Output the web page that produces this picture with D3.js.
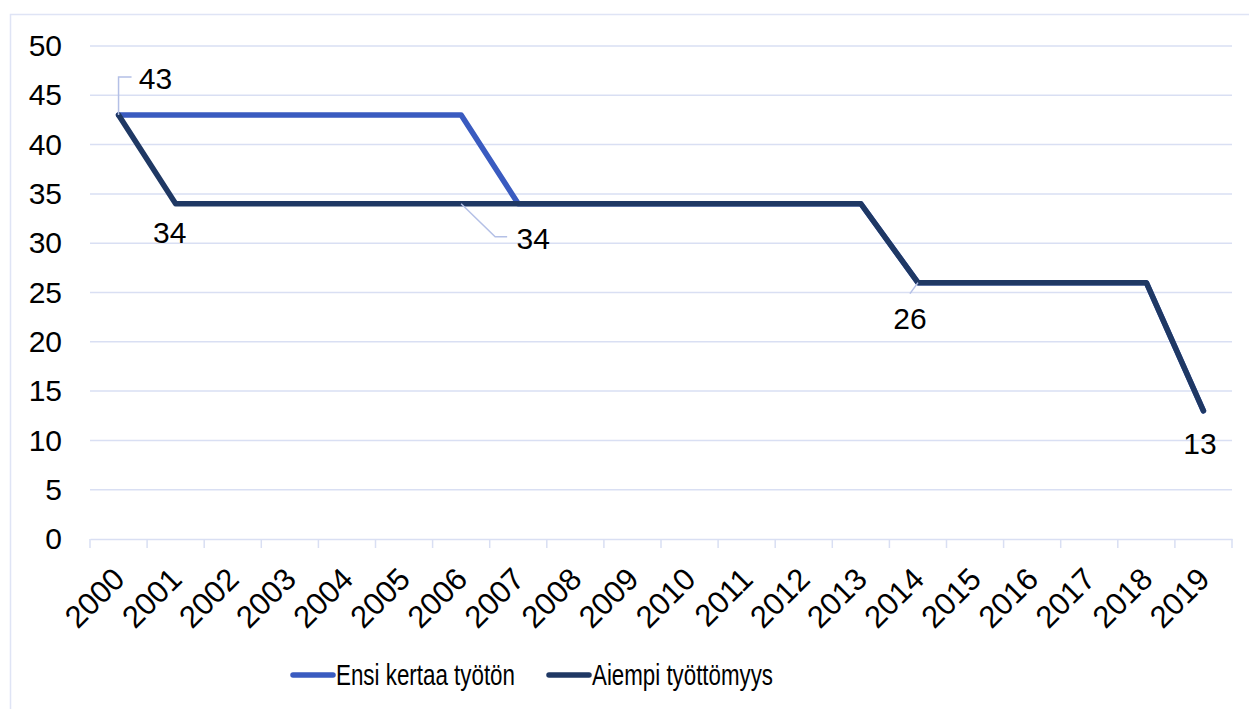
<!DOCTYPE html>
<html>
<head>
<meta charset="utf-8">
<script src="https://cdn.jsdelivr.net/npm/d3@7"></script>
<style>
  body { margin: 0; background: #fff; }
  svg { font-family: "Liberation Sans", Arial, sans-serif; }
</style>
</head>
<body>
<svg id="chart" width="1249" height="709"></svg>
<script>
// Data
const years = ["2000","2001","2002","2003","2004","2005","2006","2007","2008","2009",
               "2010","2011","2012","2013","2014","2015","2016","2017","2018","2019"];
const ensiKertaa = [43,43,43,43,43,43,43,34,34,34,34,34,34,34,26,26,26,26,26,13];
const aiempi     = [43,34,34,34,34,34,34,34,34,34,34,34,34,34,26,26,26,26,26,13];
const yTicks = [0,5,10,15,20,25,30,35,40,45,50];
const seriesNames = ["Ensi kertaa työtön", "Aiempi työttömyys"];
// labelled points of "Aiempi työttömyys" (index into years)
const labelIdx = [0, 1, 6, 14, 19];

const colors = ["#3a5bc0", "#1f3864"];

// Layout
const margin = { top: 46, left: 90, right: 17, bottom: 170 };
const width = 1249 - margin.left - margin.right;
const height = 709 - margin.top - margin.bottom;

const svg = d3.select("#chart");

// outer frame
svg.append("rect")
  .attr("x", 10.5).attr("y", 14.5)
  .attr("width", 1260).attr("height", 720)
  .attr("fill", "none")
  .attr("stroke", "#dfe4f5")
  .attr("stroke-width", 1.5);

const g = svg.append("g")
  .attr("transform", `translate(${margin.left},${margin.top})`);

// Scales
const x = d3.scaleBand().domain(years).range([0, width]);
const y = d3.scaleLinear().domain([0, 50]).range([height, 0]);
const cx = d => x(d) + x.bandwidth() / 2;

// Gridlines
g.selectAll(".grid")
  .data(yTicks.filter(t => t > 0))
  .enter()
  .append("line")
  .attr("x1", 0).attr("x2", width)
  .attr("y1", d => y(d)).attr("y2", d => y(d))
  .attr("stroke", "#d9dff3")
  .attr("stroke-width", 1.5);

// Y axis
const yAxis = g.append("g")
  .call(d3.axisLeft(y).tickValues(yTicks).tickSize(0).tickPadding(28));
yAxis.select(".domain").remove();
yAxis.selectAll("text")
  .attr("font-size", 30)
  .attr("fill", "#000")
  .attr("font-family", "Liberation Sans, Arial, sans-serif");

// X axis
const xAxis = g.append("g")
  .attr("transform", `translate(0,${height})`)
  .call(d3.axisBottom(x).tickSize(0).tickFormat(""));
xAxis.select(".domain")
  .attr("stroke", "#d9dff3")
  .attr("stroke-width", 1.5);
xAxis.selectAll(".tick").remove();

// x tick marks at band edges
const edges = years.map(d => x(d)).concat([width]);
xAxis.selectAll(".edge")
  .data(edges)
  .enter()
  .append("line")
  .attr("x1", d => d).attr("x2", d => d)
  .attr("y1", 0).attr("y2", 9)
  .attr("stroke", "#d9dff3")
  .attr("stroke-width", 1.5);

// x labels rotated
xAxis.selectAll(".xlab")
  .data(years)
  .enter()
  .append("text")
  .attr("text-anchor", "end")
  .attr("font-size", 31)
  .attr("fill", "#000")
  .attr("transform", d => `translate(${cx(d) + 8},${42}) rotate(-45)`)
  .text(d => d);

// Lines
const line = d3.line()
  .x((d, i) => cx(years[i]))
  .y(d => y(d));

[ensiKertaa, aiempi].forEach((vals, k) => {
  g.append("path")
    .datum(vals)
    .attr("fill", "none")
    .attr("stroke", colors[k])
    .attr("stroke-width", 5.5)
    .attr("stroke-linejoin", "round")
    .attr("stroke-linecap", "round")
    .attr("d", line);
});

// Data labels (offsets relative to point)
const labelPos = {
  0:  { dx: 37,   dy: -26, leader: [[0, -38], [13, -38]] },
  1:  { dx: -6,   dy: 39.5 },
  6:  { dx: 72,   dy: 45,  leader: [[34, 33], [46, 33]] },
  14: { dx: -8,   dy: 46.5, leader: [[-8, 11]] },
  19: { dx: -3.5, dy: 43.5 }
};

labelIdx.forEach(i => {
  const px = cx(years[i]);
  const py = y(aiempi[i]);
  const p = labelPos[i];
  if (p.leader) {
    const pts = [[px, py]].concat(p.leader.map(q => [px + q[0], py + q[1]]));
    g.append("path")
      .attr("d", d3.line()(pts))
      .attr("fill", "none")
      .attr("stroke", "#b4c0e6")
      .attr("stroke-width", 1.5);
  }
  g.append("text")
    .attr("x", px + p.dx)
    .attr("y", py + p.dy)
    .attr("text-anchor", "middle")
    .attr("font-size", 30)
    .attr("fill", "#000")
    .text(aiempi[i]);
});

// Legend
const legendX = [293, 549];
const legendLen = [179, 181];
const legendY = 675;
seriesNames.forEach((name, k) => {
  svg.append("line")
    .attr("x1", legendX[k]).attr("x2", legendX[k] + 40)
    .attr("y1", legendY).attr("y2", legendY)
    .attr("stroke", colors[k])
    .attr("stroke-width", 5.5)
    .attr("stroke-linecap", "round");
  svg.append("text")
    .attr("x", legendX[k] + 43)
    .attr("y", legendY + 10)
    .attr("font-size", 30)
    .attr("textLength", legendLen[k])
    .attr("lengthAdjust", "spacingAndGlyphs")
    .attr("fill", "#000")
    .text(name);
});
</script>
</body>
</html>
